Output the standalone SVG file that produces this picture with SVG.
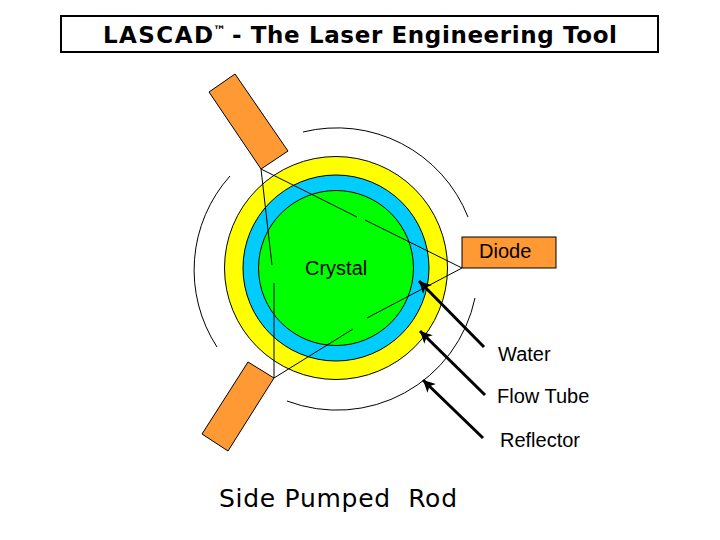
<svg xmlns="http://www.w3.org/2000/svg" width="720" height="540" viewBox="0 0 720 540">
<defs>
<marker id="ah" markerUnits="userSpaceOnUse" markerWidth="13" markerHeight="12" refX="12" refY="6" orient="auto" viewBox="0 0 12 12"><path d="M0 0L12 6L0 12L3 6Z" fill="#000"/></marker>
</defs>
<style>
.lab{font-family:"Liberation Sans",Arial,sans-serif;font-size:20px;fill:#000}
.part{fill:#ff9933;stroke:#000;stroke-width:1}
.thin{fill:none;stroke:#000;stroke-width:1}
.arr{fill:none;stroke:#000;stroke-width:3;marker-end:url(#ah)}
</style>
<rect width="720" height="540" fill="#fff"/>
<g id="title"><rect x="61" y="16" width="597" height="36" fill="#fff" stroke="#000" stroke-width="2"/>
<text x="103" y="43" font-family="'DejaVu Sans',Verdana,sans-serif" font-weight="700" font-size="23px" xml:space="preserve"><tspan textLength="110" lengthAdjust="spacing">LASCAD</tspan><tspan x="213" dy="-8" font-size="13px">™</tspan><tspan x="232" dy="8" textLength="385" lengthAdjust="spacing">- The Laser Engineering Tool</tspan></text></g>
<g id="reflector"><path class="thin" d="M303 132A141 141 0 0 1 468 217"/><path class="thin" d="M230 176A141 141 0 0 0 217 347"/><path class="thin" d="M287 401A141 141 0 0 0 475 298"/></g>
<g id="flow-tube"><circle cx="336" cy="268" r="111.500" fill="#ffff00" stroke="#000"/></g>
<g id="water"><circle cx="336" cy="268" r="93" fill="#00ccff" stroke="#000"/></g>
<g id="crystal"><circle cx="336" cy="268" r="77.500" fill="#00ff00" stroke="#000"/><text class="lab" x="305" y="275">Crystal</text></g>
<g id="diode-top"><polygon class="part" points="235,74 209,92 261,169 288,151"/></g>
<g id="diode-bottom"><polygon class="part" points="248,362 274,378 228,451 202,434"/></g>
<g id="diode-right"><rect class="part" x="462" y="237" width="94" height="31"/><text class="lab" x="479" y="258">Diode</text></g>
<g id="connectors">
<path class="thin" d="M261 169L272 265M261 169L357 217M365 220L462 268M274 378V283M274 378L353 329M367 318L462 268"/>
<path class="arr" d="M484 347L419 281"/><path class="arr" d="M485 395L420 331"/><path class="arr" d="M483 438L423 380"/>
</g>
<text class="lab" x="498" y="361">Water</text>
<text class="lab" x="497" y="403">Flow Tube</text>
<text class="lab" x="500" y="447">Reflector</text>
<text x="219" y="507" font-family="'DejaVu Sans',Verdana,sans-serif" font-size="25px" textLength="238" lengthAdjust="spacing" xml:space="preserve">Side Pumped  Rod</text>
</svg>
